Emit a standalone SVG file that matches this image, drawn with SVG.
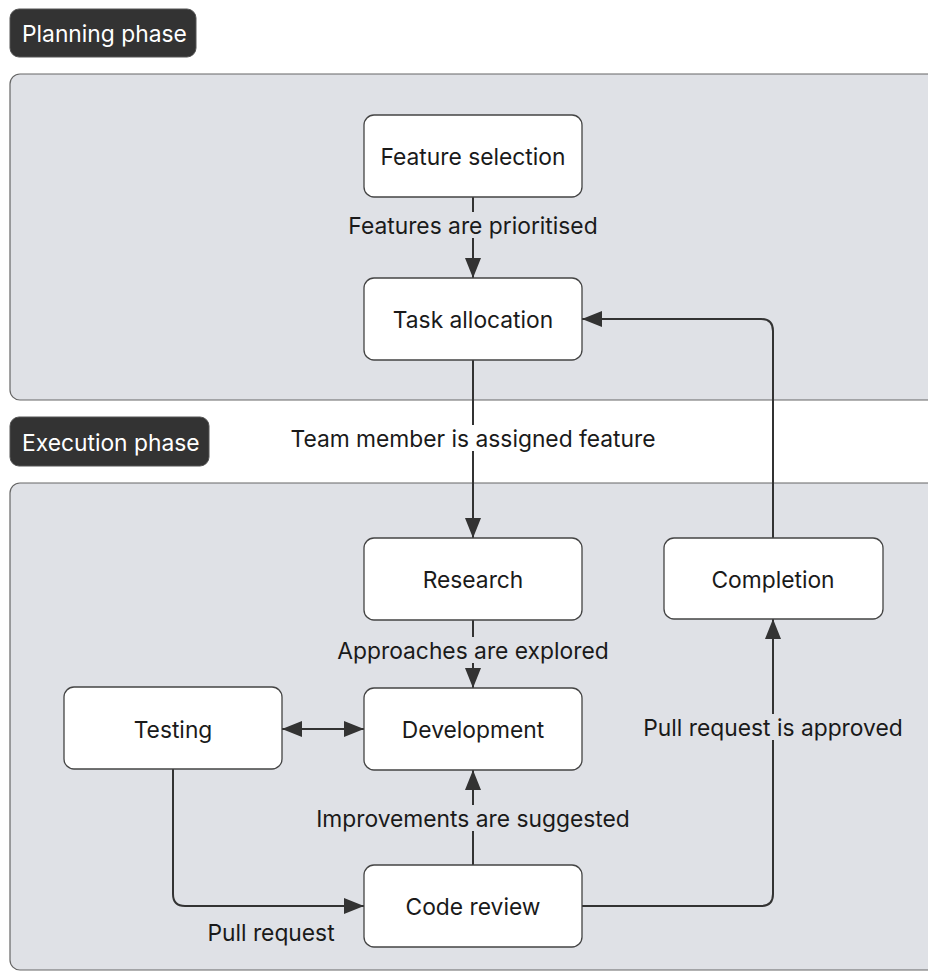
<svg xmlns="http://www.w3.org/2000/svg" width="928" height="972" viewBox="0 0 928 972">
<style>
text{font-family:Inter,"Noto Sans","Liberation Sans",sans-serif;font-size:22.8px;fill:#1a1a1a;dominant-baseline:central;text-anchor:middle}
.badge rect{fill:#333333;stroke:#555;stroke-width:1}
.badge text{fill:#ffffff;text-anchor:start}
.container{fill:#dfe1e6;stroke:#666;stroke-width:1.2}
.node rect{fill:#ffffff;stroke:#444;stroke-width:1.3}
.edge{fill:none;stroke:#333;stroke-width:2}
.lblbg{fill:#dfe1e6}
.lblbgw{fill:#ffffff}
</style>
<defs>
<marker id="arr" viewBox="0 0 20 16" refX="20" refY="8" markerWidth="20" markerHeight="16" markerUnits="userSpaceOnUse" orient="auto-start-reverse">
<path d="M0,0 L20,8 L0,16 Z" fill="#333"/>
</marker>
</defs>
<rect width="928" height="972" fill="#ffffff"/>
<g id="planning-phase">
<rect class="container" x="10" y="74" width="940" height="326" rx="10"/>
<g class="badge"><rect x="10" y="9" width="186" height="48" rx="9"/><text x="22" y="33">Planning phase</text></g>
</g>
<g id="execution-phase">
<rect class="container" x="10" y="483" width="940" height="487" rx="10"/>
<g class="badge"><rect x="10" y="417" width="199" height="49" rx="9"/><text x="22" y="442">Execution phase</text></g>
</g>
<g id="connectors">
<path class="edge" d="M473,197 L473,278" marker-end="url(#arr)"/>
<rect class="lblbg" x="343" y="212" width="260" height="26"/>
<text x="473" y="225">Features are prioritised</text>
<path class="edge" d="M773,538 L773,331 Q773,319 761,319 L582,319" marker-end="url(#arr)"/>
<path class="edge" d="M473,360 L473,538" marker-end="url(#arr)"/>
<rect class="lblbgw" x="286" y="425" width="374" height="26"/>
<text x="473" y="438">Team member is assigned feature</text>
<path class="edge" d="M473,620 L473,688" marker-end="url(#arr)"/>
<rect class="lblbg" x="333" y="637" width="280" height="26"/>
<text x="473" y="650">Approaches are explored</text>
<path class="edge" d="M282,729 L364,729" marker-start="url(#arr)" marker-end="url(#arr)"/>
<path class="edge" d="M473,865 L473,770" marker-end="url(#arr)"/>
<rect class="lblbg" x="311" y="805" width="324" height="26"/>
<text x="473" y="818">Improvements are suggested</text>
<path class="edge" d="M173,769 L173,894 Q173,906 185,906 L364,906" marker-end="url(#arr)"/>
<text x="271" y="932">Pull request</text>
<path class="edge" d="M582,906 L761,906 Q773,906 773,894 L773,619" marker-end="url(#arr)"/>
<rect class="lblbg" x="640" y="714" width="266" height="26"/>
<text x="773" y="727">Pull request is approved</text>
</g>
<g id="feature-selection" class="node"><rect x="364" y="115" width="218" height="82" rx="10"/><text x="473" y="156">Feature selection</text></g>
<g id="task-allocation" class="node"><rect x="364" y="278" width="218" height="82" rx="10"/><text x="473" y="319">Task allocation</text></g>
<g id="research" class="node"><rect x="364" y="538" width="218" height="82" rx="10"/><text x="473" y="579">Research</text></g>
<g id="completion" class="node"><rect x="664" y="538" width="219" height="81" rx="10"/><text x="773" y="579">Completion</text></g>
<g id="testing" class="node"><rect x="64" y="687" width="218" height="82" rx="10"/><text x="173" y="729">Testing</text></g>
<g id="development" class="node"><rect x="364" y="688" width="218" height="82" rx="10"/><text x="473" y="729">Development</text></g>
<g id="code-review" class="node"><rect x="364" y="865" width="218" height="82" rx="10"/><text x="473" y="906">Code review</text></g>
</svg>
